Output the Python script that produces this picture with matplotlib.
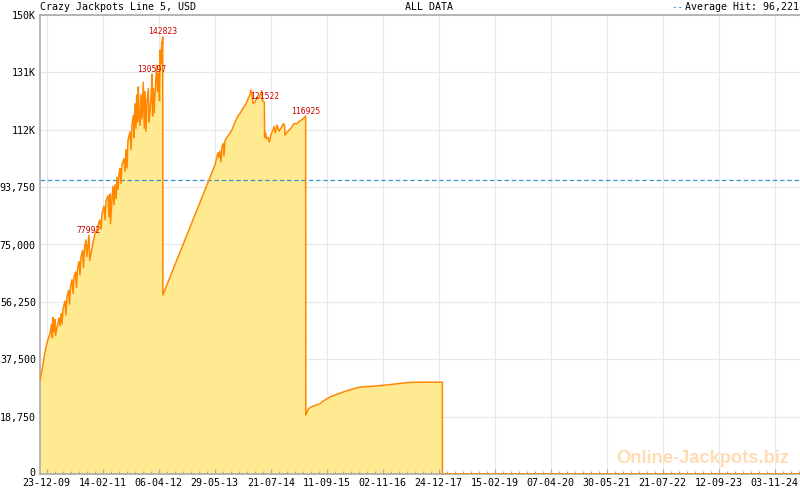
import numpy as np
import pandas as pd
import matplotlib
matplotlib.use("Agg")
import matplotlib.pyplot as plt
import matplotlib.dates as mdates
import matplotlib.transforms as mtransforms

# jackpot history
dates = [
    "2009-11-03", "2009-11-18", "2009-12-03", "2009-12-18", "2010-01-02", "2010-01-17",
    "2010-01-28", "2010-02-03", "2010-02-08", "2010-02-15", "2010-02-23", "2010-02-27",
    "2010-03-10", "2010-03-25", "2010-04-01", "2010-04-09", "2010-04-16", "2010-04-24",
    "2010-05-08", "2010-05-16", "2010-05-23", "2010-06-04", "2010-06-11", "2010-06-19",
    "2010-06-30", "2010-07-07", "2010-07-15", "2010-07-26", "2010-08-02", "2010-08-10",
    "2010-08-21", "2010-08-28", "2010-09-05", "2010-09-16", "2010-09-23", "2010-10-01",
    "2010-10-12", "2010-10-18", "2010-11-03", "2010-11-09", "2010-11-18", "2010-12-03",
    "2010-12-18", "2011-01-02", "2011-01-22", "2011-02-01", "2011-02-08", "2011-02-23",
    "2011-03-03", "2011-03-10", "2011-03-25", "2011-04-02", "2011-04-09", "2011-04-13",
    "2011-04-24", "2011-05-01", "2011-05-09", "2011-05-16", "2011-05-24", "2011-05-31",
    "2011-06-08", "2011-06-15", "2011-06-23", "2011-06-30", "2011-07-07", "2011-07-22",
    "2011-07-30", "2011-08-06", "2011-08-14", "2011-08-21", "2011-09-05", "2011-09-13",
    "2011-09-20", "2011-09-30", "2011-10-05", "2011-10-12", "2011-10-20", "2011-10-25",
    "2011-10-31", "2011-11-06", "2011-11-11", "2011-11-19", "2011-11-26", "2011-12-04",
    "2011-12-13", "2011-12-21", "2011-12-26", "2012-01-02", "2012-01-10", "2012-01-20",
    "2012-01-25", "2012-02-01", "2012-02-09", "2012-02-16", "2012-02-21", "2012-02-26",
    "2012-03-02", "2012-03-10", "2012-03-22", "2012-03-28", "2012-04-05", "2012-04-12",
    "2012-04-16", "2012-04-23", "2012-04-29", "2012-05-03", "2012-05-06", "2012-05-07",
    "2013-04-24", "2013-05-31", "2013-06-22", "2013-06-30", "2013-07-07", "2013-07-15",
    "2013-07-22", "2013-08-01", "2013-08-06", "2013-08-14", "2013-09-05", "2013-10-03",
    "2013-10-27", "2013-11-18", "2013-12-03", "2013-12-26", "2014-01-17", "2014-02-01",
    "2014-02-16", "2014-02-23", "2014-03-03", "2014-03-10", "2014-03-25", "2014-04-09",
    "2014-04-24", "2014-05-05", "2014-05-14", "2014-05-20", "2014-06-03", "2014-06-05",
    "2014-06-12", "2014-06-19", "2014-06-30", "2014-07-11", "2014-07-23", "2014-08-07",
    "2014-08-14", "2014-08-25", "2014-09-05", "2014-09-20", "2014-10-05", "2014-10-22",
    "2014-10-31", "2014-11-04", "2014-11-26", "2014-12-19", "2015-01-10", "2015-02-02",
    "2015-02-16", "2015-03-11", "2015-04-07", "2015-04-08", "2015-04-17", "2015-04-24",
    "2015-05-09", "2015-06-01", "2015-07-01", "2015-07-23", "2015-08-14", "2015-09-13",
    "2015-10-06", "2015-11-12", "2015-12-19", "2016-01-25", "2016-03-03", "2016-04-09",
    "2016-05-31", "2016-07-30", "2016-09-20", "2016-11-19", "2016-12-26", "2017-03-11",
    "2017-05-09", "2017-08-07", "2018-01-20", "2018-01-21", "2025-05-10",
]
values = [
    30500, 34000, 38000, 41500, 44000, 46000,
    49000, 44500, 51200, 46500, 50500, 45200,
    48000, 51000, 48500, 52500, 49000, 54000,
    56500, 52000, 58000, 60000, 55500, 61500,
    63500, 59000, 64500, 66000, 61000, 67000,
    69500, 65000, 71000, 73000, 67500, 74000,
    76500, 71000, 77992, 69800, 72000, 75500,
    78500, 80000, 83000, 80000, 85000, 87500,
    83000, 89000, 91000, 84000, 91500, 81800,
    90000, 94000, 88000, 94500, 90000, 97000,
    93000, 98000, 99800, 95000, 101000, 103000,
    99000, 106000, 100000, 109000, 111800, 106000,
    114000, 117200, 110000, 121000, 113000, 123800,
    115000, 126500, 118000, 114000, 124000, 116000,
    128000, 113000, 125000, 112000, 122000, 126000,
    115000, 118000, 123000, 130597, 117000, 126000,
    118000, 124000, 133600, 125000, 131000, 122000,
    138500, 134000, 141300, 140000, 142823, 58500,
    97000, 101000, 105000, 103500, 105500, 102000,
    107000, 108000, 104000, 109000, 110500, 112300,
    115000, 117000, 117800, 119500, 121000, 122500,
    124000, 125500, 124000, 121000, 121500, 123000,
    123000, 124000, 125300, 122000, 121522, 110000,
    111500, 109500, 110000, 108500, 111000, 112500,
    113600, 111500, 114000, 112000, 113000, 114500,
    114000, 110700, 112000, 113000, 114500, 114500,
    115200, 115800, 116925, 19300, 20200, 21000,
    21700, 22200, 22600, 23000, 23800, 24600,
    25200, 25800, 26400, 27000, 27500, 28000,
    28500, 28600, 28800, 29000, 29200, 29600,
    29900, 30000, 30000, 0, 0,
]

label_dates = ["2010-11-03", "2012-02-16", "2012-05-06", "2014-06-03", "2015-04-07"]
label_values = [77992, 130597, 142823, 121522, 116925]

average_hit = 96221

x_ticks = ["2009-12-23", "2011-02-14", "2012-04-06", "2013-05-29", "2014-07-21",
           "2015-09-11", "2016-11-02", "2017-12-24", "2019-02-15", "2020-04-07",
           "2021-05-30", "2022-07-21", "2023-09-12", "2024-11-03"]
y_ticks = [0, 18750, 37500, 56250, 75000, 93750, 112500, 131250, 150000]
y_labels = ["0", "18,750", "37,500", "56,250", "75,000", "93,750", "112K", "131K", "150K"]

x = pd.to_datetime(dates)
y = np.array(values)
x_start, x_end = pd.Timestamp("2009-11-03"), pd.Timestamp("2025-05-10")

plt.rcParams['font.family'] = ['DejaVu Sans Mono']
fig = plt.figure(figsize=(8, 4.9), dpi=100)
ax = fig.add_axes([40 / 800, 16 / 490, 760 / 800, 459 / 490])

tick_num = mdates.date2num(pd.to_datetime(x_ticks))

# grid drawn by hand so it sits under the fill while ticks stay on top
for t in tick_num:
    ax.axvline(t, color="#e8e8e8", lw=0.9, zorder=0)
for v in y_ticks[1:]:
    ax.axhline(v, color="#e8e8e8", lw=0.9, zorder=0)

ax.fill_between(x, y, 0, color="#ffe991", lw=0, zorder=1)
ax.plot(x, y, color="#ff8800", lw=1.1, zorder=7)
ax.axhline(average_hit, color="#3a96c8", lw=0.9, dashes=(3.6, 2.2), zorder=4)

for d, v in zip(label_dates, label_values):
    ax.annotate(str(v), (pd.Timestamp(d), v), xytext=(0, 0.5), textcoords="offset points",
                ha="center", va="bottom", fontsize=5.8, color="#cc0000", zorder=8)

ax.set_xticks(tick_num)
ax.set_xticklabels([pd.Timestamp(t).strftime("%d-%m-%y") for t in x_ticks])
step = np.diff(tick_num).mean() / 7
minor = np.arange(tick_num[0] - step, mdates.date2num(x_end), step)
ax.set_xticks(minor, minor=True)

ax.set_yticks(y_ticks)
ax.set_yticklabels(y_labels)

ax.set_xlim(x_start, x_end)
ax.set_ylim(0, 150000)

ax.tick_params(axis="x", which="major", direction="in", length=3.8, width=0.8,
               color="#aaaaaa", pad=3, labelsize=7.2)
ax.tick_params(axis="x", which="minor", direction="in", length=2.3, width=0.8,
               color="#aaaaaa")
ax.tick_params(axis="y", length=0, pad=3, labelsize=7.2)
for side in ["left", "top", "bottom"]:
    ax.spines[side].set_color("#aaaaaa")
    ax.spines[side].set_linewidth(1.2)
    ax.spines[side].set_zorder(6)
ax.spines["right"].set_visible(False)

# lift the "0" label a touch so it clears the first date
zero_lbl = ax.get_yticklabels()[0]
zero_lbl.set_transform(zero_lbl.get_transform() +
                       mtransforms.ScaledTranslation(0, 2 / 100, fig.dpi_scale_trans))

fig.text(40.5 / 800, 1 - 7 / 490, "Crazy Jackpots Line 5, USD", fontsize=7.2, va="center")
fig.text(405 / 800, 1 - 7 / 490, "ALL DATA", fontsize=7.2, va="center")
fig.text(799 / 800, 1 - 7 / 490, "Average Hit: 96,221", fontsize=7.2, va="center", ha="right")
fig.text(683 / 800, 1 - 7 / 490, "--", fontsize=7.2, va="center", ha="right", color="#3a96c8")
fig.text(789 / 800, 1 - 463 / 490, "Online-Jackpots.biz", fontsize=13.2, ha="right",
         va="baseline", color="#ffdcb4", family="Liberation Sans", weight="bold", zorder=1)

fig.savefig("out.png", dpi=100)
